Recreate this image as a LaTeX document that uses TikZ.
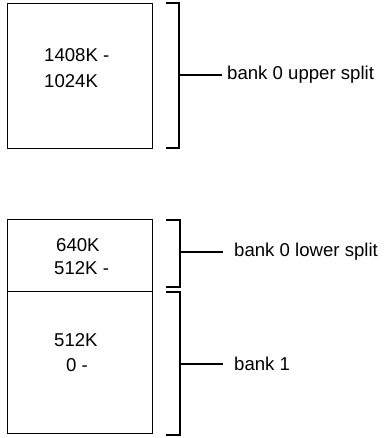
\documentclass[tikz,border=0pt]{standalone}
\usepackage{fontspec}
\setmainfont{Liberation Sans}
\begin{document}
\begin{tikzpicture}[x=1pt,y=-1pt,
  every node/.style={font=\fontsize{18.6}{22}\selectfont},
  memline/.style={line width=1.4pt},
  brk/.style={line width=1.3pt},
  conn/.style={line width=1.2pt},
  txt/.style={anchor=base west, inner sep=0pt},
  lab/.style={anchor=west, inner ysep=0pt}]
\useasboundingbox (0,0) rectangle (383,438);
% boxes
\node[draw, memline, anchor=north west, minimum width=145pt, minimum height=145pt, inner sep=0pt] (b1) at (7,3) {};
\node[draw, memline, anchor=north west, minimum width=145pt, minimum height=72pt, inner sep=0pt] (b2) at (7,219) {};
\node[draw, memline, anchor=north west, minimum width=145pt, minimum height=142pt, inner sep=0pt] (b3) at (7,291) {};
% box texts
\node[txt] (t1) at (44,61.5) {1408K -};
\node[txt] (t2) at (44,87.5) {1024K};
\node[txt] (t3) at (56,251) {640K};
\node[txt] (t4) at (54,274) {512K -};
\node[txt] (t5) at (54,346) {512K};
\node[txt] (t6) at (66,371) {0 -};
% brackets
\coordinate (k1a) at (166,3);  \coordinate (k1b) at (179,3);
\coordinate (k1c) at (179,148); \coordinate (k1d) at (166,148);
\coordinate (k1m) at (179,75);
\coordinate (k2a) at (166,220); \coordinate (k2b) at (180,220);
\coordinate (k2c) at (180,287); \coordinate (k2d) at (166,287);
\coordinate (k2m) at (180,252);
\coordinate (k3a) at (166,292); \coordinate (k3b) at (180,292);
\coordinate (k3c) at (180,435); \coordinate (k3d) at (166,435);
\coordinate (k3m) at (180,364);
\draw[brk] (k1a) -- (k1b) -- (k1c) -- (k1d);
\draw[brk] (k2a) -- (k2b) -- (k2c) -- (k2d);
\draw[brk] (k3a) -- (k3b) -- (k3c) -- (k3d);
% labels
\node[lab, inner xsep=5pt] (l1) at (222,75) {bank 0 upper split};
\node[lab, inner xsep=11pt] (l2) at (223,252) {bank 0 lower split};
\node[lab, inner xsep=11pt] (l3) at (223,364) {bank 1};
\draw[conn] (k1m) -- (l1.west);
\draw[conn] (k2m) -- (l2.west);
\draw[conn] (k3m) -- (l3.west);
\end{tikzpicture}
\end{document}
